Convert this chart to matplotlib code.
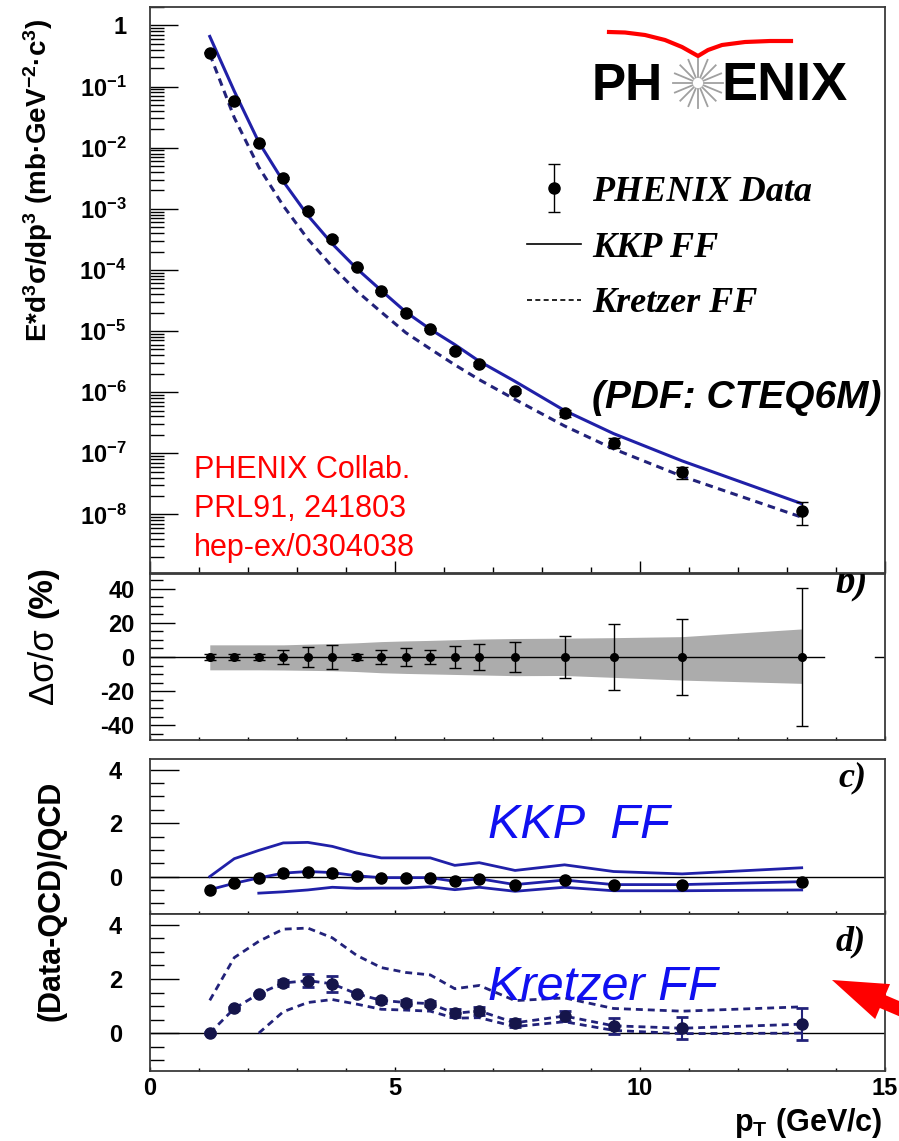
import numpy as np
import matplotlib
matplotlib.use("Agg")
import matplotlib.pyplot as plt
from matplotlib.ticker import MultipleLocator, LogLocator, FixedLocator, FixedFormatter, NullFormatter
from matplotlib.patches import FancyArrow
from matplotlib.container import ErrorbarContainer
from matplotlib.legend_handler import HandlerErrorbar
from matplotlib.lines import Line2D

plt.rcParams.update({
    "font.family": ["Liberation Sans", "DejaVu Sans"],
    "font.weight": "bold",
    "axes.unicode_minus": False,
    "mathtext.fontset": "custom",
    "mathtext.rm": "Liberation Sans",
    "mathtext.bf": "Liberation Sans:bold",
    "mathtext.it": "Liberation Sans:bold:italic",
    "mathtext.default": "bf",
})

# pi0 pT bins (GeV/c)
pt = [1.22, 1.72, 2.22, 2.72, 3.22, 3.72, 4.22, 4.72, 5.22, 5.72,
      6.22, 6.72, 7.45, 8.46, 9.46, 10.86, 13.3]

# a) invariant cross section (mb GeV^-2 c^3)
xsec = [3.6e-1, 5.9e-2, 1.17e-2, 3.2e-3, 9.3e-4, 3.2e-4, 1.1e-4, 4.5e-5, 2.0e-5, 1.07e-5,
        4.7e-6, 2.9e-6, 1.05e-6, 4.5e-7, 1.5e-7, 4.9e-8, 1.12e-8]
# NLO pQCD with CTEQ6M, two fragmentation functions
kkp = [0.66, 8.4e-2, 1.23e-2, 2.8e-3, 7.8e-4, 2.67e-4, 1.05e-4, 4.6e-5, 2.05e-5, 1.07e-5,
       6.0e-6, 3.2e-6, 1.5e-6, 5.0e-7, 2.1e-7, 7.5e-8, 1.5e-8]
kretzer = [0.34, 3.1e-2, 4.8e-3, 1.12e-3, 3.2e-4, 1.13e-4, 4.5e-5, 2.04e-5, 9.4e-6, 5.1e-6,
           2.8e-6, 1.6e-6, 7.6e-7, 2.8e-7, 1.18e-7, 4.2e-8, 9.0e-9]

# b) relative errors (%)
rel_center = [0, 0, 0, 0, 0, 0, 0, 0, 0, 0, 0, 0, 0, 0, 0, 0, 0]
stat_err = [1.5, 1.5, 1.5, 4.0, 5.8, 7.0, 1.5, 4.3, 5.0, 4.2,
            6.3, 7.7, 9.0, 12.0, 19.0, 22.2, 40.6]
syst_up = [7.1, 7.1, 7.1, 7.1, 7.5, 7.8, 8.3, 9.0, 9.4, 9.7,
           10.1, 10.5, 10.8, 11.0, 11.3, 11.9, 16.4]
syst_dn = [-7.5, -7.5, -7.5, -7.6, -7.8, -8.0, -8.5, -9.2, -9.6, -9.9,
           -10.2, -10.5, -10.9, -10.8, -11.9, -13.5, -15.4]

# c) (Data-QCD)/QCD, KKP
kkp_ratio = [-0.49, -0.25, -0.05, 0.13, 0.19, 0.15, 0.03, -0.04, -0.04, -0.04,
             -0.18, -0.08, -0.30, -0.13, -0.30, -0.30, -0.19]
kkp_up = [0.0, 0.67, 0.98, 1.26, 1.28, 1.13, 0.88, 0.70, 0.70, 0.70,
          0.42, 0.52, 0.23, 0.44, 0.19, 0.10, 0.33]
kkp_dn = [-0.62, -0.57, -0.50, -0.40, -0.44, -0.43, -0.43, -0.38,
          -0.49, -0.40, -0.55, -0.40, -0.53, -0.53, -0.50]  # from pT = 2.22

# d) (Data-QCD)/QCD, Kretzer
kre_ratio = [0.0, 0.91, 1.45, 1.85, 1.94, 1.82, 1.45, 1.21, 1.13, 1.09,
             0.73, 0.82, 0.38, 0.63, 0.27, 0.18, 0.33]
kre_err = [0.05, 0.05, 0.05, 0.1, 0.25, 0.3, 0.05, 0.1, 0.1, 0.1,
           0.15, 0.15, 0.15, 0.2, 0.3, 0.4, 0.6]
kre_up = [1.21, 2.79, 3.39, 3.84, 3.88, 3.52, 2.87, 2.42, 2.24, 2.15,
          1.64, 1.76, 1.20, 1.30, 0.91, 0.81, 0.97]
kre_dn = [0.0, 0.79, 1.13, 1.24, 1.07, 0.88, 0.85, 0.81,
          0.55, 0.57, 0.24, 0.42, 0.10, -0.02, 0.0]  # from pT = 2.22

W, H = 899, 1141
BLUE = "#2020a8"
NAVY = "#22227a"
TXT_BLUE = "#1010f0"
SERIF_BI = dict(family="Liberation Serif", weight="bold", style="italic")


def rect(x0, y0, x1, y1):
    # pixel box (top-left origin) -> figure fraction
    return [x0 / W, 1 - y1 / H, (x1 - x0) / W, (y1 - y0) / H]


fig = plt.figure(figsize=(W / 100, H / 100), dpi=100)
ax_a = fig.add_axes(rect(150, 7, 885, 573))
ax_b = fig.add_axes(rect(150, 574, 885, 740))
ax_c = fig.add_axes(rect(150, 759, 885, 914))
ax_d = fig.add_axes(rect(150, 914, 885, 1071))

# overlay in pixel units for free text, logo and arrow
ov = fig.add_axes([0, 0, 1, 1], zorder=10)
ov.set_xlim(0, W)
ov.set_ylim(H, 0)
ov.axis("off")

for ax in (ax_a, ax_b, ax_c, ax_d):
    ax.set_xlim(0, 15)
    ax.xaxis.set_major_locator(MultipleLocator(5))
    ax.xaxis.set_minor_locator(MultipleLocator(1))
    ax.tick_params(which="both", direction="in", top=False, right=False, width=1,
                   labelsize=17, colors="black")
    ax.tick_params(axis="x", which="major", length=3)
    ax.tick_params(axis="x", which="minor", length=2)
    for sp in ax.spines.values():
        sp.set_color("#3a3a3a")
        sp.set_linewidth(1.3)
    if ax is not ax_d:
        ax.tick_params(axis="x", labelbottom=False)

# --- a) cross section
ax_a.set_yscale("log")
ax_a.set_ylim(1.1e-9, 2.0)
decades = [1e-8, 1e-7, 1e-6, 1e-5, 1e-4, 1e-3, 1e-2, 1e-1, 1]
dec_labels = ["10$^{-%d}$" % n for n in range(8, 0, -1)] + ["1"]
ax_a.yaxis.set_major_locator(FixedLocator(decades))
ax_a.yaxis.set_major_formatter(FixedFormatter(dec_labels))
ax_a.yaxis.set_minor_locator(LogLocator(base=10, subs=np.arange(2, 10), numticks=20))
ax_a.yaxis.set_minor_formatter(NullFormatter())
ax_a.tick_params(axis="y", which="major", length=20, pad=17)
ax_a.tick_params(axis="y", which="minor", length=10)
ax_a.tick_params(axis="x", which="major", length=9)
ax_a.tick_params(axis="x", which="minor", length=4)

ax_a.plot(pt, kkp, "-", color=BLUE, lw=2.2)
ax_a.plot(pt, kretzer, "--", color=NAVY, lw=2.2, dashes=(2.5, 1.8))
a_err = [y * e / 100 for y, e in zip(xsec, stat_err)]
h_data = ax_a.errorbar(pt, xsec, yerr=a_err, fmt="o", color="black", ms=8,
                       capsize=4, elinewidth=1, capthick=1, zorder=5)

h_kkp = Line2D([], [], color="black", lw=1.2)
h_kre = Line2D([], [], color="black", lw=1.2, ls="--", dashes=(3, 2))
ax_a.legend([h_data, h_kkp, h_kre], ["PHENIX Data", "KKP FF", "Kretzer FF"],
            loc="upper left", bbox_to_anchor=(0.513, 0.702), frameon=False,
            prop=dict(size=26, **SERIF_BI), handlelength=1.5, handletextpad=0.3,
            labelspacing=0.62, borderpad=0, borderaxespad=0,
            handler_map={ErrorbarContainer: HandlerErrorbar(yerr_size=0.66)})

# --- b) relative errors
ax_b.set_ylim(-48.5, 48.5)
ax_b.yaxis.set_major_locator(MultipleLocator(20))
ax_b.yaxis.set_minor_locator(MultipleLocator(5))
ax_b.tick_params(axis="y", which="major", length=18, pad=11)
ax_b.tick_params(axis="y", which="minor", length=9)
ax_b.fill_between(pt, syst_dn, syst_up, color="#acacac", lw=0)
ax_b.axhline(0, xmin=0, xmax=13.75 / 15, color="black", lw=1)
ax_b.axhline(0, xmin=14.8 / 15, xmax=1, color="black", lw=1)
ax_b.errorbar(pt, rel_center, yerr=stat_err, fmt="o", color="black", ms=5.5,
              capsize=4, elinewidth=1, capthick=1, zorder=5)

# --- c) and d) ratios
for ax in (ax_c, ax_d):
    ax.set_ylim(-1.4, 4.4)
    ax.yaxis.set_major_locator(MultipleLocator(2))
    ax.yaxis.set_minor_locator(MultipleLocator(0.5))
    ax.tick_params(axis="y", which="major", length=21, pad=20)
    ax.tick_params(axis="y", which="minor", length=10)
    ax.axhline(0, color="black", lw=1)

ax_c.plot(pt, kkp_up, color=BLUE, lw=2)
ax_c.plot(pt[2:], kkp_dn, color=BLUE, lw=2)
ax_c.plot(pt, kkp_ratio, color=BLUE, lw=2)
ax_c.plot(pt, kkp_ratio, "o", color="black", ms=8, zorder=5)

dash = (2.5, 1.8)
ax_d.plot(pt, kre_up, "--", color=NAVY, lw=2, dashes=dash)
ax_d.plot(pt[2:], kre_dn, "--", color=NAVY, lw=2, dashes=dash)
ax_d.plot(pt, kre_ratio, "--", color=NAVY, lw=2, dashes=dash)
ax_d.errorbar(pt, kre_ratio, yerr=kre_err, fmt="o", color="#15154a", ms=8,
              ecolor=NAVY, capsize=4, elinewidth=1.5, capthick=2, zorder=5)
ax_d.tick_params(axis="x", labelsize=17, pad=4)

# panel tags; b) sits partly above its frame and is clipped
ax_b.text(868, 592, "b)", transform=ov.transData, ha="right", va="baseline",
          fontsize=28, clip_on=True, **SERIF_BI)
ov.text(866, 786, "c)", ha="right", va="baseline", fontsize=26, **SERIF_BI)
ov.text(866, 950, "d)", ha="right", va="baseline", fontsize=26, **SERIF_BI)

# axis titles
ov.text(38, 180, "E*d$^{3}$σ/dp$^{3}$ (mb·GeV$^{-2}$·c$^{3}$)", rotation=90,
        ha="center", va="center", fontsize=20)
ov.text(43, 666, "Δσ/σ", rotation=90, ha="center", va="center",
        fontsize=25, weight="normal")
ov.text(43, 592, "(%)", rotation=90, ha="center", va="center", fontsize=24)
ov.text(51, 901, "(Data-QCD)/QCD", rotation=90, ha="center", va="center", fontsize=22)
ov.text(883, 1131, "p$_{T}$ (GeV/c)", ha="right", va="baseline", fontsize=22)

# annotations
ov.text(592, 408, "(PDF: CTEQ6M)", ha="left", va="baseline", fontsize=28, style="italic")
for i, line in enumerate(["PHENIX Collab.", "PRL91, 241803", "hep-ex/0304038"]):
    ov.text(194, 478 + 39 * i, line, color="red", ha="left", va="baseline",
            fontsize=22, weight="normal")
ov.text(488, 838, "KKP  FF", color=TXT_BLUE, ha="left", va="baseline",
        fontsize=35, style="italic", weight="normal")
ov.text(488, 1000, "Kretzer FF", color=TXT_BLUE, ha="left", va="baseline",
        fontsize=35, style="italic", weight="normal")

# PHENIX logo
cx, cy = 698, 83
ov.text(cx - 35, 100, "PH", ha="right", va="baseline", fontsize=37)
ov.text(cx + 23, 100, "ENIX", ha="left", va="baseline", fontsize=39)
for ang in np.linspace(0, 2 * np.pi, 16, endpoint=False):
    ov.plot([cx + 6 * np.cos(ang), cx + 25 * np.cos(ang)],
            [cy + 6 * np.sin(ang), cy + 25 * np.sin(ang)], color="#a0a0a0", lw=1.3)
wing_x = [609, 625, 645, 665, 682, 698, 708, 722, 745, 770, 791]
wing_y = [32, 32.5, 35, 40, 47, 56, 50, 45, 42, 41, 41]
ov.plot(wing_x, wing_y, color="red", lw=3, solid_joinstyle="round")

# pointer arrow
ov.add_patch(FancyArrow(961, 1035, -129, -55, width=14, head_width=38, head_length=55,
                        length_includes_head=True, color="red", lw=0))

fig.savefig("out.png", dpi=100)
